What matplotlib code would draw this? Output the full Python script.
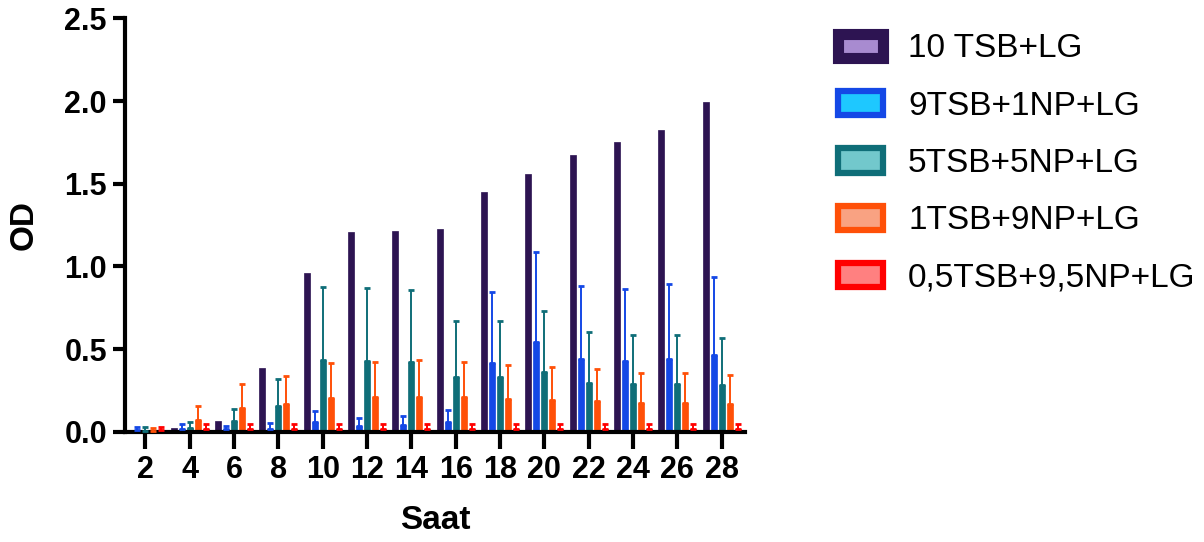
import matplotlib
matplotlib.use("Agg")
import matplotlib.pyplot as plt
import numpy as np
from matplotlib.patches import Patch

# ---------------------------------------------------------------------------
# Data
# ---------------------------------------------------------------------------
hours = [2, 4, 6, 8, 10, 12, 14, 16, 18, 20, 22, 24, 26, 28]

series_names = [
    "10 TSB+LG",
    "9TSB+1NP+LG",
    "5TSB+5NP+LG",
    "1TSB+9NP+LG",
    "0,5TSB+9,5NP+LG",
]

tsb10_mean = [0.01, 0.02, 0.065, 0.387, 0.958, 1.21, 1.212, 1.226, 1.448, 1.561, 1.676, 1.751, 1.827, 1.995]
tsb10_top = tsb10_mean

np1_mean = [0.008, 0.015, 0.015, 0.015, 0.057, 0.034, 0.04, 0.06, 0.417, 0.541, 0.437, 0.427, 0.44, 0.464]
np1_top = [0.03, 0.047, 0.036, 0.05, 0.123, 0.081, 0.095, 0.133, 0.843, 1.087, 0.882, 0.864, 0.893, 0.936]

np5_mean = [0.005, 0.022, 0.065, 0.157, 0.434, 0.428, 0.424, 0.329, 0.329, 0.361, 0.297, 0.289, 0.289, 0.283]
np5_top = [0.03, 0.057, 0.135, 0.32, 0.877, 0.869, 0.857, 0.67, 0.672, 0.732, 0.602, 0.586, 0.585, 0.569]

np9_mean = [0.005, 0.071, 0.141, 0.166, 0.202, 0.208, 0.21, 0.208, 0.2, 0.192, 0.186, 0.173, 0.174, 0.166]
np9_top = [0.02, 0.154, 0.29, 0.339, 0.414, 0.424, 0.432, 0.424, 0.405, 0.391, 0.38, 0.357, 0.357, 0.341]

np95_mean = [0.01, 0.015, 0.015, 0.015, 0.015, 0.015, 0.015, 0.015, 0.015, 0.015, 0.016, 0.016, 0.016, 0.016]
np95_top = [0.03, 0.045, 0.045, 0.045, 0.047, 0.047, 0.047, 0.046, 0.046, 0.045, 0.045, 0.045, 0.045, 0.045]

means = [tsb10_mean, np1_mean, np5_mean, np9_mean, np95_mean]
tops = [tsb10_top, np1_top, np5_top, np9_top, np95_top]

# ---------------------------------------------------------------------------
# Style
# ---------------------------------------------------------------------------
EDGE_COLORS = ["#2D1452", "#1448E6", "#0F6E78", "#FF5008", "#FF0000"]
FILL_COLORS = ["#A88BD0", "#1EC8FF", "#72C8CC", "#F9A282", "#FF8080"]

FONT = "Liberation Sans"
TICK_FS = 22
LABEL_FS = 24
LEGEND_FS = 24

BAR_STEP = 0.36
BAR_W = 0.27


def main() -> None:
    plt.rcParams["font.family"] = [FONT, "DejaVu Sans"]

    fig = plt.figure(figsize=(12.04, 5.42), dpi=100)
    ax = fig.add_axes([0.1038, 0.2035, 0.5152, 0.7624])

    x = np.array(hours, dtype=float)
    for i, (m, t) in enumerate(zip(means, tops)):
        pos = x + (i - 2) * BAR_STEP
        m = np.array(m)
        err = np.clip(np.array(t) - m, 0, None)
        ax.bar(pos, m, width=BAR_W, color=EDGE_COLORS[i], edgecolor=EDGE_COLORS[i],
               linewidth=0.5, zorder=2)
        if i > 0:
            ax.errorbar(pos, m, yerr=[np.zeros_like(err), err], fmt="none",
                        ecolor=EDGE_COLORS[i], elinewidth=1.4, capsize=2.2,
                        capthick=2.0, zorder=3)

    ax.set_xlim(1.08, 29.07)
    ax.set_ylim(0, 2.5)
    ax.set_xticks(hours)
    ax.set_yticks([0.0, 0.5, 1.0, 1.5, 2.0, 2.5])
    ax.set_yticklabels(["0.0", "0.5", "1.0", "1.5", "2.0", "2.5"])

    for side in ("top", "right"):
        ax.spines[side].set_visible(False)
    for side in ("left", "bottom"):
        ax.spines[side].set_linewidth(3)
        ax.spines[side].set_capstyle("projecting")

    ax.tick_params(axis="both", width=3, length=9, direction="out",
                   labelsize=TICK_FS, pad=4)
    ax.tick_params(axis="x", length=12, pad=5)
    for lab in ax.get_xticklabels() + ax.get_yticklabels():
        lab.set_fontweight("bold")

    ax.set_xlabel("Saat", fontsize=LABEL_FS, fontweight="bold", labelpad=14)
    ax.set_ylabel("OD", fontsize=LABEL_FS, fontweight="bold", labelpad=18)

    handles = [
        Patch(facecolor=FILL_COLORS[i], edgecolor=EDGE_COLORS[i],
              linewidth=(8 if i == 0 else 4.5), label=series_names[i])
        for i in range(5)
    ]
    fig.legend(handles=handles, loc="upper left", bbox_to_anchor=(0.685, 0.963),
               frameon=False, fontsize=LEGEND_FS, handlelength=1.35,
               handleheight=0.75, handletextpad=0.75, labelspacing=0.79,
               borderaxespad=0)

    fig.savefig("out.png", dpi=100)
    plt.close(fig)


if __name__ == "__main__":
    main()
